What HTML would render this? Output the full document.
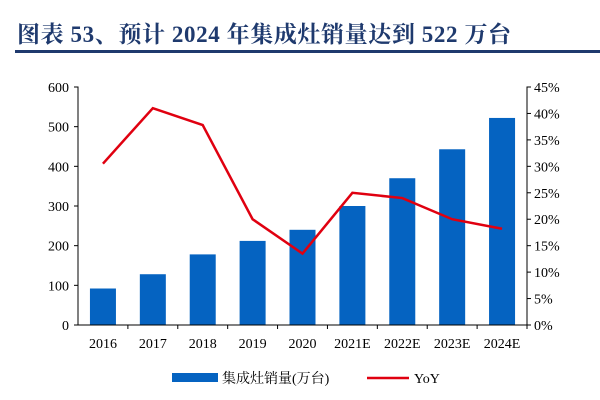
<!DOCTYPE html>
<html><head><meta charset="utf-8"><style>
body{margin:0;background:#fff;width:600px;height:400px;overflow:hidden}
svg{display:block}
text{font-family:"Liberation Serif","Noto Serif CJK SC",serif;font-size:14px;fill:#000}
</style></head><body>
<svg width="600" height="400">
<text x="17" y="42" style="font-size:23px;letter-spacing:0.6px;font-weight:bold;fill:#1f3a6e;font-family:'Liberation Serif','Noto Serif CJK SC',serif">图表 53、预计 2024 年集成灶销量达到 522 万台</text>
<rect x="15" y="50" width="585" height="3" fill="#1f3a6e"/>
<g id="plot"></g>
</svg>
<script>
const categories=["2016","2017","2018","2019","2020","2021E","2022E","2023E","2024E"];
const sales=[92,128,178,212,240,300,370,443,522];
const yoy=[30.5,41,37.8,20,13.5,25,24,20,18.2];
const leftTicks=[0,100,200,300,400,500,600];
const rightTicks=[0,5,10,15,20,25,30,35,40,45];
const L=78,R=527,T=87,B=325;
const step=(R-L)/categories.length;
const xc=i=>L+step*(i+0.5);
const yL=v=>B-(v/600)*(B-T);
const yR=v=>B-(v/45)*(B-T);
const g=document.getElementById('plot');
const NS="http://www.w3.org/2000/svg";
function mk(t,a){const e=document.createElementNS(NS,t);for(const k in a)e.setAttribute(k,a[k]);g.appendChild(e);return e;}
sales.forEach((v,i)=>{
 const r=mk('rect',{x:xc(i)-13,y:yL(v),width:26,height:B-yL(v),fill:'#0563c1'});
 
 
});
const ax=mk('path',{d:`M${L-4},${T}H${L}V${B}H${R}V${T}H${R+4}`,stroke:'#000',fill:'none','stroke-width':1});


leftTicks.forEach(v=>{
 mk('line',{x1:L-4,x2:L,y1:yL(v),y2:yL(v),stroke:'#000'});
 const t=mk('text',{x:L-9,y:yL(v)+5,'text-anchor':'end'});t.textContent=v;
 
 
});
rightTicks.forEach(v=>{
 mk('line',{x1:R,x2:R+4,y1:yR(v),y2:yR(v),stroke:'#000'});
 const t=mk('text',{x:R+7,y:yR(v)+5});t.textContent=v+'%';
 
 
});
categories.forEach((c,i)=>{
 mk('line',{x1:L+step*(i+1),x2:L+step*(i+1),y1:B,y2:B+4,stroke:'#000'});
 const t=mk('text',{x:xc(i),y:B+23,'text-anchor':'middle'});t.textContent=c;
 
 
});
const line=mk('polyline',{points:yoy.map((v,i)=>xc(i)+','+yR(v)).join(' '),fill:'none',stroke:'#e00010','stroke-width':2.5});


const lb=mk('rect',{x:172,y:373,width:46,height:9,fill:'#0563c1'});


const lt=mk('text',{x:222,y:383});lt.textContent='集成灶销量(万台)';


const ll=mk('line',{x1:367,x2:409,y1:378,y2:378,stroke:'#e00010','stroke-width':2.5});


const lt2=mk('text',{x:414,y:383});lt2.textContent='YoY';


</script>
</body></html>
